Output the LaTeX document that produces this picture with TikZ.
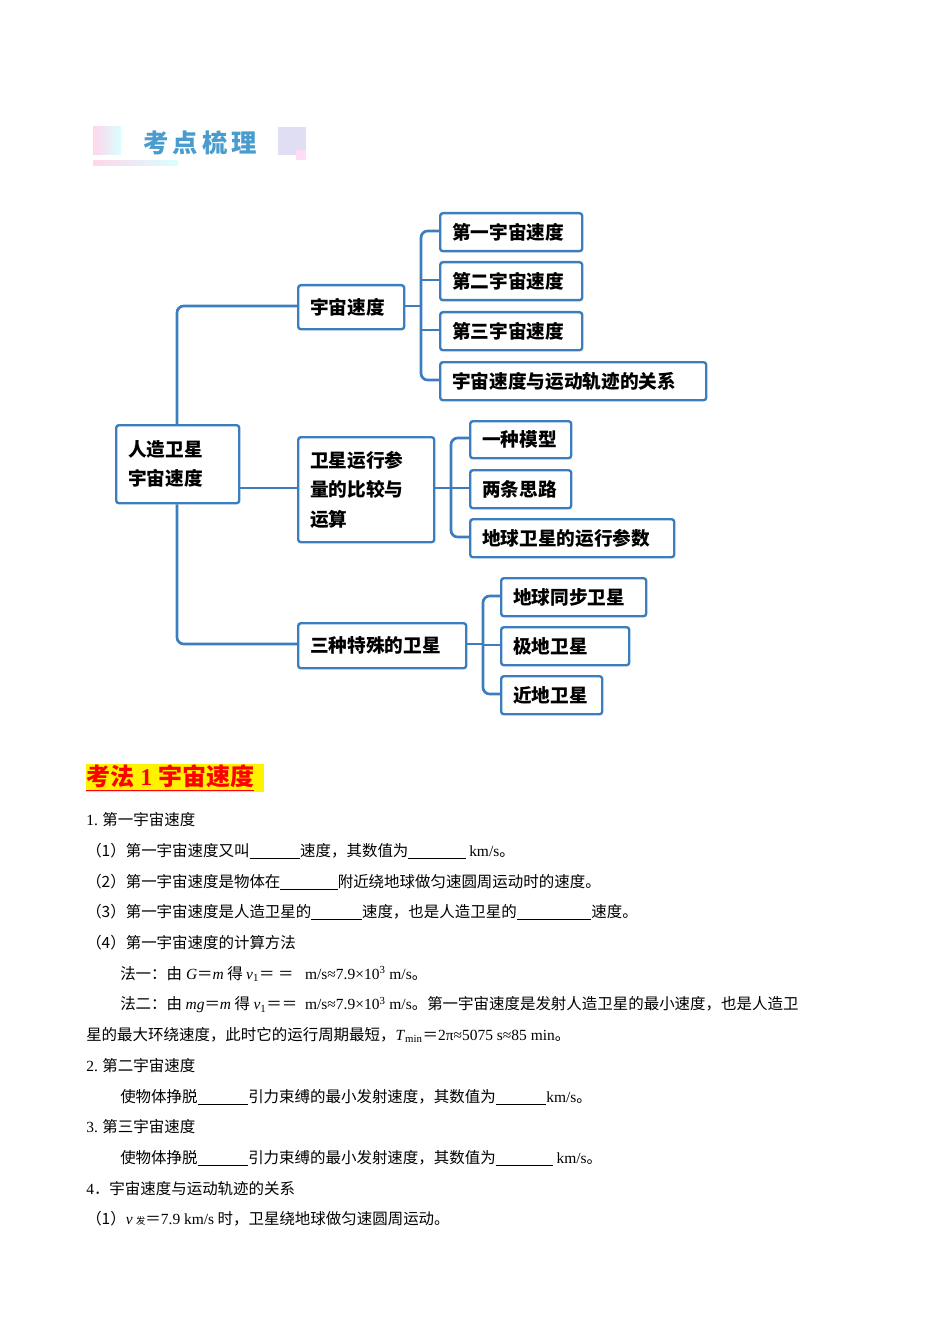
\documentclass[tikz,border=0pt]{standalone}
\usepackage{fontspec}
\setmainfont{Noto Sans CJK SC}
\newfontfamily\lat{Liberation Serif}
\definecolor{lb}{HTML}{3C7DBE}
\definecolor{tb}{HTML}{4A9CCF}
\newcommand{\blk}[1]{\underline{\hspace{#1}}}
\newcommand{\eq}{{\fontspec{Noto Sans CJK SC}＝}}
\tikzset{
 box/.style={draw=lb,line width=1.8pt,rounded corners=2pt,anchor=north west,inner sep=0pt,font=\fontsize{14}{22}\selectfont\bfseries,align=left},
 con/.style={draw=lb,line width=2pt,rounded corners=5pt},
 ln/.style={anchor=west,inner sep=0pt,font=\fontsize{11.6}{13}\selectfont}
}
\begin{document}
\begin{tikzpicture}[x=0.75pt,y=-0.75pt]
\useasboundingbox (0,0) rectangle (950,1344);
% header
\shade[left color=pink!80!magenta!40,right color=cyan!15] (93,127) rectangle (121,155);
\shade[left color=pink!80!magenta!40,right color=cyan!15] (93,161) rectangle (178,166);
\fill[cyan!20!blue!12] (278,127) rectangle (306,155);
\fill[pink!60!magenta!25] (296,150) rectangle (306,160);
\node[anchor=west,inner sep=0pt,text=tb,font=\fontsize{19}{20}\selectfont\bfseries] (title) at (143,143) {考\,点\,梳\,理};
% tree boxes
\newcommand{\bx}[6]{\node[box,minimum width=(#4-#3)*0.75pt,minimum height=(#6-#5)*0.75pt,text width=(#4-#3)*0.75pt-18pt] (#1) at (#3,#5) {\hspace*{0pt}#2};}
\bx{root}{人造卫星\\宇宙速度}{115}{238}{424}{502}
\bx{a}{宇宙速度}{297}{403}{284}{328}
\bx{b}{卫星运行参\\量的比较与\\运算}{297}{433}{436}{541}
\bx{c}{三种特殊的卫星}{297}{465}{622}{667}
\bx{a1}{第一宇宙速度}{439}{581}{212}{250}
\bx{a2}{第二宇宙速度}{439}{581}{261}{299}
\bx{a3}{第三宇宙速度}{439}{581}{311}{349}
\bx{a4}{宇宙速度与运动轨迹的关系}{439}{705}{361}{399}
\bx{b1}{一种模型}{469}{570}{420}{457}
\bx{b2}{两条思路}{469}{570}{469}{507}
\bx{b3}{地球卫星的运行参数}{469}{673}{518}{556}
\bx{c1}{地球同步卫星}{500}{645}{577}{615}
\bx{c2}{极地卫星}{500}{628}{626}{664}
\bx{c3}{近地卫星}{500}{601}{675}{713}
% connectors
\draw[con] (root.north -| 177,0) -- (177,306) -- (a.west |- 0,306);
\draw[con] (root.south -| 177,0) -- (177,644) -- (c.west |- 0,644);
\draw[con] (root.east |- 0,488) -- (b.west |- 0,488);
\draw[con] (a.east |- 0,306) -- (421,306);
\draw[con] (a1.west |- 0,231) -- (421,231) -- (421,380) -- (a4.west |- 0,380);
\draw[con] (a2.west |- 0,280) -- (421,280);
\draw[con] (a3.west |- 0,330) -- (421,330);
\draw[con] (b.east |- 0,488) -- (451,488);
\draw[con] (b1.west |- 0,438) -- (451,438) -- (451,537) -- (b3.west |- 0,537);
\draw[con] (b2.west |- 0,488) -- (451,488);
\draw[con] (c.east |- 0,644) -- (483,644);
\draw[con] (c1.west |- 0,596) -- (483,596) -- (483,694) -- (c3.west |- 0,694);
\draw[con] (c2.west |- 0,645) -- (483,645);
% heading
\fill[yellow] (86,764) rectangle (264,792);
\node[anchor=west,inner sep=0pt,text=red,font=\fontsize{18}{20}\selectfont\bfseries] (h) at (86,778) {\underline{考法{\lat\bfseries\ 1\ }宇宙速度}};
% body
\node[ln] (l1) at (86,820) {{\lat 1.} 第一宇宙速度};
\node[ln] (l2) at (86,851) {（1）第一宇宙速度又叫\blk{38pt}速度，其数值为\blk{43pt}\ {\lat km/s}。};
\node[ln] (l3) at (86,882) {（2）第一宇宙速度是物体在\blk{43pt}附近绕地球做匀速圆周运动时的速度。};
\node[ln] (l4) at (86,912) {（3）第一宇宙速度是人造卫星的\blk{38pt}速度，也是人造卫星的\blk{56pt}速度。};
\node[ln] (l5) at (86,943) {（4）第一宇宙速度的计算方法};
\node[ln] (l6) at (120,974) {法一：由{\lat\ \textit{G}}\eq{\lat\textit{m}} 得 {\lat\textit{v}\textsubscript{1}}\eq\ \eq{\lat\ \ \ m/s≈7.9×10\textsuperscript{3} m/s}。};
\node[ln] (l7) at (120,1005) {法二：由 {\lat\textit{mg}}\eq{\lat\textit{m}} 得 {\lat\textit{v}\textsubscript{1}}\eq\eq{\lat\ \ m/s≈7.9×10\textsuperscript{3} m/s}。第一宇宙速度是发射人造卫星的最小速度，也是人造卫};
\node[ln] (l8) at (86,1035) {星的最大环绕速度，此时它的运行周期最短，{\lat\textit{T}\textsubscript{min}}\eq{\lat 2π≈5075 s≈85 min}。};
\node[ln] (l9) at (86,1066) {{\lat 2.} 第二宇宙速度};
\node[ln] (l10) at (120,1097) {使物体挣脱\blk{38pt}引力束缚的最小发射速度，其数值为\blk{38pt}{\lat km/s}。};
\node[ln] (l11) at (86,1127) {{\lat 3.} 第三宇宙速度};
\node[ln] (l12) at (120,1158) {使物体挣脱\blk{38pt}引力束缚的最小发射速度，其数值为\blk{43pt}\ {\lat km/s}。};
\node[ln] (l13) at (86,1189) {{\lat 4}．宇宙速度与运动轨迹的关系};
\node[ln] (l14) at (86,1219) {（1）{\lat\textit{v}} {\scriptsize 发}\eq{\lat 7.9 km/s} 时，卫星绕地球做匀速圆周运动。};
\end{tikzpicture}
\end{document}
